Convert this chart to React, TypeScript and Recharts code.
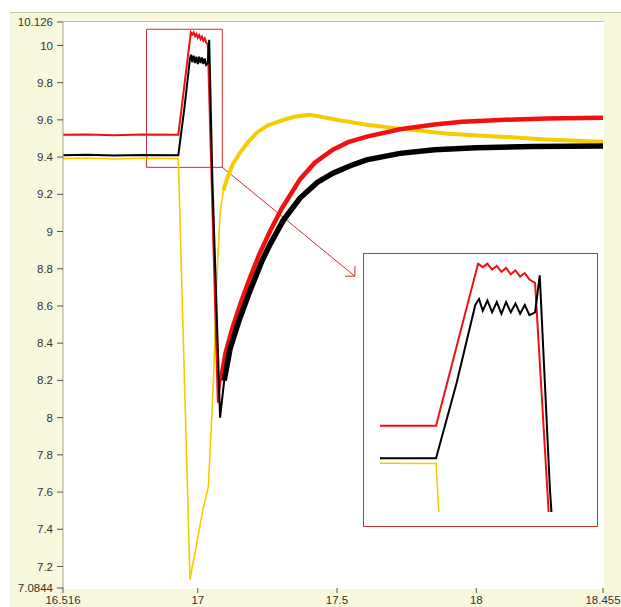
import { LineChart, Line, XAxis, YAxis, ReferenceArea, ReferenceLine } from "recharts";

// axis ticks as printed on the figure
const xTicks = [16.516, 17, 17.5, 18, 18.455];
const yTicks = [7.0844, 7.2, 7.4, 7.6, 7.8, 8, 8.2, 8.4, 8.6, 8.8, 9, 9.2, 9.4, 9.6, 9.8, 10, 10.126];

// [time, value]
const red: [number, number][] = [
  [16.516, 9.52], [16.6, 9.522], [16.7, 9.518], [16.8, 9.521], [16.93, 9.52],
  [16.975, 10.07], [16.98, 10.058], [16.985, 10.07], [16.99, 10.05], [16.995, 10.062],
  [17.0, 10.042], [17.005, 10.055], [17.01, 10.034], [17.015, 10.047], [17.02, 10.026],
  [17.025, 10.038], [17.03, 10.016], [17.036, 10.005],
  [17.072, 8.08], [17.082, 8.2], [17.1, 8.35], [17.126, 8.49], [17.155, 8.62],
  [17.187, 8.75], [17.22, 8.875], [17.259, 9.0], [17.3, 9.12], [17.367, 9.28],
  [17.42, 9.37], [17.485, 9.44], [17.54, 9.48], [17.607, 9.51], [17.726, 9.55], [17.85, 9.575],
  [17.95, 9.59], [18.085, 9.6], [18.25, 9.607], [18.455, 9.612],
];

const black: [number, number][] = [
  [16.516, 9.41], [16.6, 9.412], [16.7, 9.408], [16.8, 9.411], [16.93, 9.41],
  [16.952, 9.665], [16.972, 9.93], [16.976, 9.95], [16.98, 9.91], [16.985, 9.945],
  [16.99, 9.905], [16.995, 9.94], [17.0, 9.9], [17.005, 9.94], [17.01, 9.905],
  [17.015, 9.935], [17.02, 9.9], [17.025, 9.93], [17.03, 9.895], [17.036, 9.905],
  [17.041, 10.03], [17.052, 9.3], [17.08, 8.0], [17.095, 8.2], [17.116, 8.37], [17.15, 8.53],
  [17.187, 8.68], [17.23, 8.84], [17.259, 8.93], [17.307, 9.06], [17.367, 9.18], [17.43, 9.265],
  [17.487, 9.315], [17.55, 9.355], [17.606, 9.385], [17.726, 9.42], [17.85, 9.44], [18.0, 9.45],
  [18.2, 9.457], [18.455, 9.46],
];

const yellow: [number, number][] = [
  [16.516, 9.392], [16.6, 9.395], [16.7, 9.39], [16.8, 9.394], [16.93, 9.392],
  [16.972, 7.13], [17.019, 7.51], [17.038, 7.63], [17.056, 8.19], [17.068, 8.73],
  [17.08, 9.1], [17.092, 9.22], [17.104, 9.28], [17.125, 9.36], [17.152, 9.424],
  [17.18, 9.48], [17.211, 9.53], [17.25, 9.57], [17.307, 9.6], [17.35, 9.618],
  [17.403, 9.627], [17.45, 9.615], [17.487, 9.603], [17.55, 9.588], [17.606, 9.574],
  [17.726, 9.553], [17.9, 9.525], [18.085, 9.51], [18.25, 9.495], [18.455, 9.483],
];

// zoom window drawn on the main plot, and where the arrow points
const zoomBox = { x1: 16.816, x2: 17.088, y1: 9.345, y2: 10.087 };
const arrowTip = { x: 17.564, y: 8.76 };
const insetX: [number, number] = [16.87, 17.0916];
const insetY: [number, number] = [9.228, 10.1026];

const rows = (pts: [number, number][]) => pts.map(([x, y]) => ({ x, y }));
const after = (pts: [number, number][], t: number) => rows(pts.filter(([x]) => x >= t));

const RED = "#f01010";
const YEL = "#f4cc00";
const BOX = "#cc3030";
const FONT = "'Liberation Sans', Arial, sans-serif";
const tickFont = { fontSize: 11.5, fill: "#333", fontFamily: FONT };

const renderXTick = (p: any) => (
  <text key={p.index} x={p.x} y={p.y + 11} textAnchor="middle" fontSize={11.5} fill="#333" fontFamily={FONT}>
    {p.payload.value}
  </text>
);

export default function App() {
  return (
    <div style={{ position: "relative", width: 621, height: 607, background: "#fff", overflow: "hidden" }}>
      <style>{"html,body{margin:0;padding:0}"}</style>
      <div style={{ position: "absolute", left: 10, top: 12, right: 0, bottom: 0, background: "#f8f8dc", borderTop: "1px solid #c8c6aa" }} />
      <div style={{ position: "absolute", left: 63, top: 21, width: 541, height: 567, background: "#fff", borderTop: "1px solid #c2c0a4" }} />

      <div style={{ position: "absolute", left: 0, top: 0 }}>
        <LineChart width={621} height={607} margin={{ top: 22, right: 18, bottom: 0, left: 0 }}>
          <XAxis
            type="number"
            dataKey="x"
            domain={[16.516, 18.455]}
            ticks={xTicks}
            interval={0}
            allowDataOverflow
            height={19}
            axisLine={false}
            tickSize={5}
            tickMargin={0}
            tickLine={{ stroke: "#555" }}
            tick={renderXTick}
          />
          <YAxis
            type="number"
            domain={[7.0844, 10.126]}
            ticks={yTicks}
            interval={0}
            allowDataOverflow
            width={63}
            tickSize={6}
            tickMargin={4}
            axisLine={{ stroke: "#a8a690" }}
            tickLine={{ stroke: "#555" }}
            tick={tickFont}
          />
          <ReferenceArea x1={zoomBox.x1} x2={zoomBox.x2} y1={zoomBox.y1} y2={zoomBox.y2} fill="none" stroke={BOX} strokeWidth={1} />
          <ReferenceLine segment={[{ x: zoomBox.x2, y: zoomBox.y1 }, arrowTip]} stroke={BOX} strokeWidth={1} />
          <ReferenceLine segment={[{ x: arrowTip.x - 0.036, y: arrowTip.y }, arrowTip]} stroke={BOX} strokeWidth={1} />
          <ReferenceLine segment={[{ x: arrowTip.x, y: arrowTip.y + 0.054 }, arrowTip]} stroke={BOX} strokeWidth={1} />

          <Line data={rows(yellow)} dataKey="y" stroke={YEL} strokeWidth={1.6} dot={false} isAnimationActive={false} />
          <Line data={after(yellow, 17.092)} dataKey="y" stroke={YEL} strokeWidth={4} dot={false} isAnimationActive={false} />
          <Line data={rows(red)} dataKey="y" stroke={RED} strokeWidth={2} dot={false} isAnimationActive={false} />
          <Line data={after(red, 17.082)} dataKey="y" stroke={RED} strokeWidth={4.5} dot={false} isAnimationActive={false} />
          <Line data={rows(black)} dataKey="y" stroke="#000" strokeWidth={2} dot={false} isAnimationActive={false} />
          <Line data={after(black, 17.095)} dataKey="y" stroke="#000" strokeWidth={5.5} dot={false} isAnimationActive={false} />
        </LineChart>
      </div>

      <div style={{ position: "absolute", left: 363, top: 253, width: 233, height: 272, border: `1px solid ${BOX}`, background: "#fff" }}>
        <LineChart width={233} height={272} margin={{ top: 0, right: 10, bottom: 14, left: 16 }}>
          <XAxis type="number" dataKey="x" domain={insetX} hide allowDataOverflow />
          <YAxis type="number" domain={insetY} hide allowDataOverflow />
          <Line data={rows(yellow)} dataKey="y" stroke={YEL} strokeWidth={1.5} dot={false} isAnimationActive={false} />
          <Line data={rows(red)} dataKey="y" stroke={RED} strokeWidth={2} dot={false} isAnimationActive={false} />
          <Line data={rows(black)} dataKey="y" stroke="#000" strokeWidth={2} dot={false} isAnimationActive={false} />
        </LineChart>
      </div>
    </div>
  );
}
